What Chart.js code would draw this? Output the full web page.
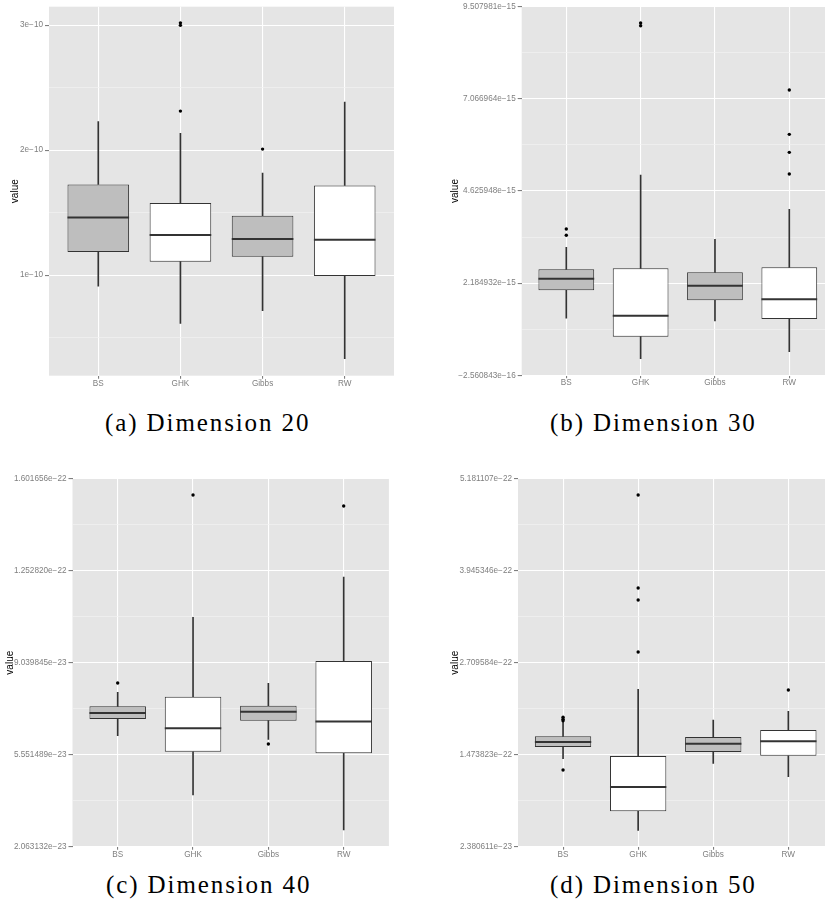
<!DOCTYPE html>
<html>
<head>
<meta charset="utf-8">
<script src="https://cdn.jsdelivr.net/npm/chart.js@4.4.1/dist/chart.umd.min.js"></script>
<style>
  html, body { margin: 0; padding: 0; background: #fff; }
  body { width: 825px; height: 911px; position: relative; overflow: hidden; }
  canvas { position: absolute; }
  .caption {
    position: absolute;
    font-family: "Liberation Serif", serif;
    font-size: 25px;
    line-height: 25px;
    letter-spacing: 1.9px;
    color: #000;
    white-space: nowrap;
  }
</style>
</head>
<body>
<canvas id="dim20"></canvas>
<canvas id="dim30"></canvas>
<canvas id="dim40"></canvas>
<canvas id="dim50"></canvas>
<div class="caption" style="left:105px; top:410px">(a) Dimension 20</div>
<div class="caption" style="left:550px; top:410px">(b) Dimension 30</div>
<div class="caption" style="left:106px; top:872px">(c) Dimension 40</div>
<div class="caption" style="left:550px; top:872px">(d) Dimension 50</div>
<script>
const categories = ["BS", "GHK", "Gibbs", "RW"];

// Dimension 20
const dim20Low = [0.912e-10, 0.613e-10, 0.715e-10, 0.331e-10];
const dim20Q1 = [1.184e-10, 1.107e-10, 1.147e-10, 0.992e-10];
const dim20Median = [1.461e-10, 1.320e-10, 1.288e-10, 1.283e-10];
const dim20Q3 = [1.725e-10, 1.576e-10, 1.475e-10, 1.717e-10];
const dim20High = [2.227e-10, 2.133e-10, 1.816e-10, 2.384e-10];
const dim20Outliers = [[], [3.018e-10, 2.998e-10, 2.312e-10], [2.008e-10], []];
const dim20Ticks = [1e-10, 2e-10, 3e-10];
const dim20TickLabels = ["1e\u221210", "2e\u221210", "3e\u221210"];
const dim20Range = [0.195e-10, 3.147e-10];

// Dimension 30
const dim30Low = [1.254e-15, 0.185e-15, 1.183e-15, 0.371e-15];
const dim30Q1 = [1.995e-15, 0.768e-15, 1.730e-15, 1.236e-15];
const dim30Median = [2.304e-15, 1.324e-15, 2.119e-15, 1.757e-15];
const dim30Q3 = [2.551e-15, 2.578e-15, 2.472e-15, 2.604e-15];
const dim30High = [3.134e-15, 5.050e-15, 3.346e-15, 4.140e-15];
const dim30Outliers = [[3.620e-15, 3.452e-15], [9.075e-15, 9.005e-15], [], [7.301e-15, 6.127e-15, 5.650e-15, 5.076e-15]];
const dim30Ticks = [-2.560843e-16, 2.184932e-15, 4.625948e-15, 7.066964e-15, 9.507981e-15];
const dim30TickLabels = ["\u22122.560843e\u221216", "2.184932e\u221215", "4.625948e\u221215", "7.066964e\u221215", "9.507981e\u221215"];

// Dimension 40
const dim40Low = [6.272e-23, 4.022e-23, 6.133e-23, 2.695e-23];
const dim40Q1 = [6.904e-23, 5.665e-23, 6.841e-23, 5.602e-23];
const dim40Median = [7.131e-23, 6.550e-23, 7.182e-23, 6.815e-23];
const dim40Q3 = [7.384e-23, 7.751e-23, 7.409e-23, 9.103e-23];
const dim40High = [7.915e-23, 10.759e-23, 8.256e-23, 12.288e-23];
const dim40Outliers = [[8.269e-23], [15.397e-23], [5.956e-23], [14.980e-23]];
const dim40Ticks = [2.063132e-23, 5.551489e-23, 9.039845e-23, 1.252820e-22, 1.601656e-22];
const dim40TickLabels = ["2.063132e\u221223", "5.551489e\u221223", "9.039845e\u221223", "1.252820e\u221222", "1.601656e\u221222"];

// Dimension 50
const dim50Low = [1.420e-22, 0.457e-22, 1.357e-22, 1.178e-22];
const dim50Q1 = [1.577e-22, 0.713e-22, 1.510e-22, 1.460e-22];
const dim50Median = [1.644e-22, 1.040e-22, 1.621e-22, 1.653e-22];
const dim50Q3 = [1.720e-22, 1.456e-22, 1.711e-22, 1.805e-22];
const dim50High = [1.913e-22, 2.351e-22, 1.939e-22, 2.056e-22];
const dim50Outliers = [[1.976e-22, 1.950e-22, 1.930e-22, 1.268e-22], [4.962e-22, 3.712e-22, 3.551e-22, 2.853e-22], [], [2.342e-22]];
const dim50Ticks = [2.380611e-23, 1.473823e-22, 2.709584e-22, 3.945346e-22, 5.181107e-22];
const dim50TickLabels = ["2.380611e\u221223", "1.473823e\u221222", "2.709584e\u221222", "3.945346e\u221222", "5.181107e\u221222"];

const boxFill = ["#BEBEBE", "#FFFFFF", "#BEBEBE", "#FFFFFF"];
const lineColor = "#333333";
const tickGrey = "#7F7F7F";
const minorGrid = "#F2F2F2";

Chart.defaults.font.family = "'Liberation Sans', Arial, sans-serif";

// grey panel behind the grid
const panelBackground = {
    id: "panelBackground",
    beforeDraw(chart) {
        const { ctx, chartArea: a } = chart;
        ctx.save();
        ctx.fillStyle = "#E5E5E5";
        ctx.fillRect(a.left, a.top, a.right - a.left, a.bottom - a.top);
        ctx.restore();
    },
};

function atCategories(values) {
    return values.map((v, i) => ({ x: i + 1, y: v }));
}

function outlierPoints(lists) {
    const pts = [];
    lists.forEach((list, i) => list.forEach((v) => pts.push({ x: i + 1, y: v })));
    return pts;
}

function minorTicks(major, min, max) {
    const step = major[1] - major[0];
    return [major[0] - step / 2, ...major.map((v) => v + step / 2)].filter((v) => v > min && v < max);
}

function makeBoxplot(id, area, s) {
    const left = Math.round(area.titleX - 6);
    const top = Math.round(area.top - 8);
    const width = Math.round(area.right + 6 - left);
    const height = Math.round(area.bottom + 22 - top);
    const canvas = document.getElementById(id);
    canvas.width = width;
    canvas.height = height;
    canvas.style.left = left + "px";
    canvas.style.top = top + "px";

    const yMin = s.range ? s.range[0] : s.ticks[0];
    const yMax = s.range ? s.range[1] : s.ticks[s.ticks.length - 1];
    const allTicks = s.ticks.concat(minorTicks(s.ticks, yMin, yMax)).sort((a, b) => a - b);
    const isMajor = (c) => c.tick && s.ticks.includes(c.tick.value);
    const halfBox = (c) => {
        const x = c.chart.scales.x;
        return (x.getPixelForValue(2) - x.getPixelForValue(1)) * 0.375;
    };

    return new Chart(canvas.getContext("2d"), {
        data: {
            datasets: [
                {
                    type: "line",
                    data: outlierPoints(s.outliers),
                    showLine: false,
                    pointStyle: "circle",
                    pointRadius: 1.7,
                    pointBackgroundColor: "#000000",
                    pointBorderWidth: 0,
                    order: 0,
                },
                {
                    type: "line",
                    data: atCategories(s.median),
                    showLine: false,
                    pointStyle: "line",
                    pointRadius: halfBox,
                    pointBorderColor: lineColor,
                    pointBorderWidth: 2,
                    order: 1,
                },
                {
                    type: "bar",
                    data: s.q1.map((v, i) => ({ x: i + 1, y: [v, s.q3[i]] })),
                    grouped: false,
                    barPercentage: 0.75,
                    categoryPercentage: 1,
                    backgroundColor: boxFill,
                    borderColor: lineColor,
                    borderWidth: 1,
                    borderSkipped: false,
                    order: 2,
                },
                {
                    type: "bar",
                    data: s.low.map((v, i) => ({ x: i + 1, y: [v, s.q1[i]] })),
                    grouped: false,
                    barThickness: 1,
                    backgroundColor: lineColor,
                    borderWidth: 0,
                    order: 3,
                },
                {
                    type: "bar",
                    data: s.q3.map((v, i) => ({ x: i + 1, y: [v, s.high[i]] })),
                    grouped: false,
                    barThickness: 1,
                    backgroundColor: lineColor,
                    borderWidth: 0,
                    order: 3,
                },
            ],
        },
        options: {
            responsive: false,
            animation: false,
            events: [],
            layout: { padding: { top: area.top - top, right: left + width - area.right, left: 0, bottom: 0 } },
            plugins: { legend: { display: false }, tooltip: { enabled: false } },
            scales: {
                x: {
                    type: "linear",
                    min: 0.4,
                    max: 4.6,
                    offset: false,
                    afterBuildTicks: (scale) => {
                        scale.ticks = categories.map((c, i) => ({ value: i + 1 }));
                    },
                    afterFit: (scale) => {
                        scale.height = top + height - area.bottom;
                    },
                    grid: { offset: false, color: "#FFFFFF", lineWidth: 1.1, tickColor: tickGrey, tickLength: 3 },
                    border: { display: false },
                    ticks: {
                        autoSkip: false,
                        maxRotation: 0,
                        padding: 0,
                        color: tickGrey,
                        font: { size: 8.2 },
                        callback: (v) => categories[v - 1],
                    },
                },
                y: {
                    type: "linear",
                    min: yMin,
                    max: yMax,
                    afterBuildTicks: (scale) => {
                        scale.ticks = allTicks.map((v) => ({ value: v }));
                    },
                    afterFit: (scale) => {
                        scale.width = area.left - left;
                    },
                    grid: {
                        color: (c) => (isMajor(c) ? "#FFFFFF" : minorGrid),
                        lineWidth: (c) => (isMajor(c) ? 1.1 : 0.7),
                        tickColor: (c) => (isMajor(c) ? tickGrey : "rgba(0,0,0,0)"),
                        tickLength: 4,
                    },
                    border: { display: false },
                    title: {
                        display: true,
                        text: "value",
                        color: "#000000",
                        padding: 0,
                        font: { size: 10 },
                    },
                    ticks: {
                        autoSkip: false,
                        padding: 2,
                        color: tickGrey,
                        font: { size: 8.2 },
                        callback: (v) => {
                            const k = s.ticks.indexOf(v);
                            return k >= 0 ? s.labels[k] : "";
                        },
                    },
                },
            },
        },
        plugins: [panelBackground],
    });
}

makeBoxplot("dim20", { titleX: 15, left: 49, top: 6.7, right: 394, bottom: 375.7 }, {
    low: dim20Low, q1: dim20Q1, median: dim20Median, q3: dim20Q3, high: dim20High,
    outliers: dim20Outliers, ticks: dim20Ticks, labels: dim20TickLabels, range: dim20Range,
});

makeBoxplot("dim30", { titleX: 454.7, left: 521.7, top: 6.7, right: 833.9, bottom: 375.3 }, {
    low: dim30Low, q1: dim30Q1, median: dim30Median, q3: dim30Q3, high: dim30High,
    outliers: dim30Outliers, ticks: dim30Ticks, labels: dim30TickLabels,
});

makeBoxplot("dim40", { titleX: 10, left: 72.5, top: 478.7, right: 388.9, bottom: 846.7 }, {
    low: dim40Low, q1: dim40Q1, median: dim40Median, q3: dim40Q3, high: dim40High,
    outliers: dim40Outliers, ticks: dim40Ticks, labels: dim40TickLabels,
});

makeBoxplot("dim50", { titleX: 454.7, left: 518, top: 478.7, right: 833.4, bottom: 846.7 }, {
    low: dim50Low, q1: dim50Q1, median: dim50Median, q3: dim50Q3, high: dim50High,
    outliers: dim50Outliers, ticks: dim50Ticks, labels: dim50TickLabels,
});
</script>
</body>
</html>
